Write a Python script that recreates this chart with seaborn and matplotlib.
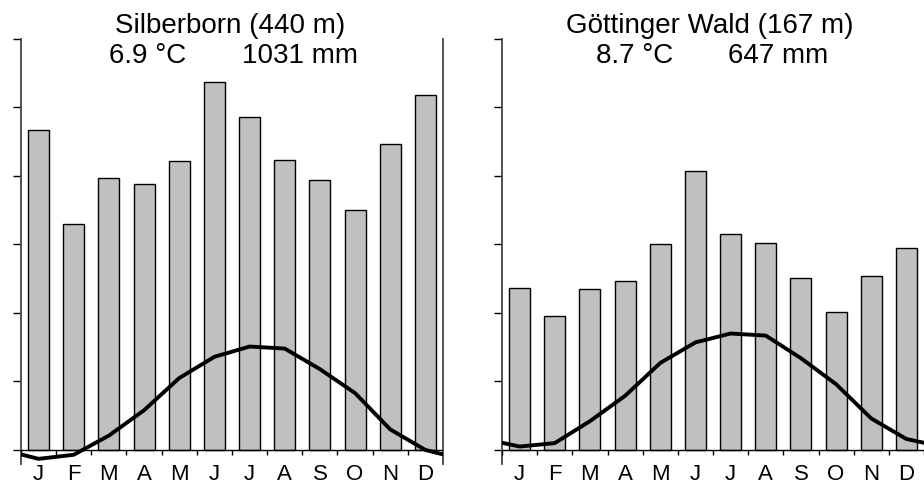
import numpy as np
import pandas as pd
import matplotlib
matplotlib.use("Agg")
import matplotlib.pyplot as plt
import seaborn as sns

# ---------------- data ----------------
MONTH_KEYS = ["Jan", "Feb", "Mar", "Apr", "May", "Jun",
              "Jul", "Aug", "Sep", "Oct", "Nov", "Dec"]
MONTH_LABELS = ["J", "F", "M", "A", "M", "J", "J", "A", "S", "O", "N", "D"]

silberborn_title = "Silberborn (440 m)"
silberborn_temp_label = "6.9 °C"
silberborn_prec_label = "1031 mm"
silberborn_prec = [93.4, 66.0, 79.4, 77.7, 84.4, 107.4, 97.2, 84.7, 78.8, 70.1, 89.3, 103.6]
silberborn_temp = [-1.3, -0.7, 2.1, 5.8, 10.5, 13.6, 15.1, 14.8, 11.8, 8.3, 3.0, 0.0]

goettingen_title = "Göttinger Wald (167 m)"
goettingen_temp_label = "8.7 °C"
goettingen_prec_label = "647 mm"
goettingen_prec = [47.3, 39.1, 47.0, 49.3, 60.1, 81.5, 63.1, 60.4, 50.2, 40.3, 50.8, 59.0]
goettingen_temp = [0.5, 1.0, 4.2, 7.9, 12.7, 15.7, 17.0, 16.7, 13.4, 9.6, 4.6, 1.6]

PREC_TICKS = [0, 20, 40, 60, 80, 100, 120]

# ---------------- style ----------------
sns.set_theme(style="white")
plt.rcParams["font.family"] = ["Liberation Sans", "DejaVu Sans"]
plt.rcParams["text.color"] = "black"
plt.rcParams["xtick.color"] = "black"
plt.rcParams["ytick.color"] = "black"

W, H = 924, 481
fig = plt.figure(figsize=(W / 100, H / 100), dpi=100)

YMIN, YMAX = -4.1, 120.0
SPINE_C = "#444444"


def px_box(x0, x1, ytop, ybot):
    return [x0 / W, (H - ybot) / H, (x1 - x0) / W, (ybot - ytop) / H]


def panel(rect, prec, temp, title, tlabel, plabel, title_cx, tl_cx, pl_cx, show_right):
    ax = fig.add_axes(rect)
    df = pd.DataFrame({"month": MONTH_KEYS, "prec": prec})
    sns.barplot(data=df, x="month", y="prec", order=MONTH_KEYS, color="#c0c0c0",
                saturation=1, edgecolor="black", linewidth=1.0, width=0.6, ax=ax)
    ax.set_xlim(-0.5, 11.5)
    ax.set_ylim(YMIN, YMAX)
    ax.set_xlabel("")
    ax.set_ylabel("")
    ax.axhline(0, color="black", lw=1.0, zorder=3)
    # month boundary ticks below the zero line
    ax.vlines(np.arange(-0.5, 12.0, 1.0), -1.5, 0, color="black", lw=1.0, zorder=3)

    ax.set_xticks(range(12))
    ax.set_xticklabels(MONTH_LABELS, fontsize=16, color="black")
    ax.tick_params(axis="x", length=0, pad=-1)
    ax.set_yticks(PREC_TICKS)
    ax.set_yticklabels([])
    ax.tick_params(axis="y", direction="out", length=6, width=1.0, color="black",
                   left=True, right=show_right)
    for s in ["top", "bottom"]:
        ax.spines[s].set_visible(False)
    ax.spines["left"].set_color(SPINE_C)
    ax.spines["left"].set_linewidth(1.3)
    ax.spines["right"].set_color(SPINE_C)
    ax.spines["right"].set_linewidth(1.3)
    ax.spines["right"].set_visible(show_right)

    # temperature on its own axis (10 °C per 20 mm)
    tx = ax.twinx()
    tdf = pd.DataFrame({"x": np.arange(-1, 13),
                        "t": [temp[-1]] + list(temp) + [temp[0]]})
    sns.lineplot(data=tdf, x="x", y="t", color="black", lw=2.8, ax=tx,
                 estimator=None, sort=False)
    tx.set_xlim(-0.5, 11.5)
    tx.set_ylim(YMIN / 2, YMAX / 2)
    tx.set_axis_off()

    fig.text(title_cx / W, 1 - 33 / H, title, ha="center", va="baseline",
             fontsize=20, color="black")
    fig.text(tl_cx / W, 1 - 63 / H, tlabel, ha="center", va="baseline",
             fontsize=20, color="black")
    fig.text(pl_cx / W, 1 - 63 / H, plabel, ha="center", va="baseline",
             fontsize=20, color="black")
    return ax


panel(px_box(21, 443, 40, 465), silberborn_prec, silberborn_temp,
      silberborn_title, silberborn_temp_label, silberborn_prec_label,
      230, 148, 300, True)
panel(px_box(502, 924, 40, 465), goettingen_prec, goettingen_temp,
      goettingen_title, goettingen_temp_label, goettingen_prec_label,
      710, 635, 778, False)

fig.savefig("out.png", dpi=100, facecolor="white")
